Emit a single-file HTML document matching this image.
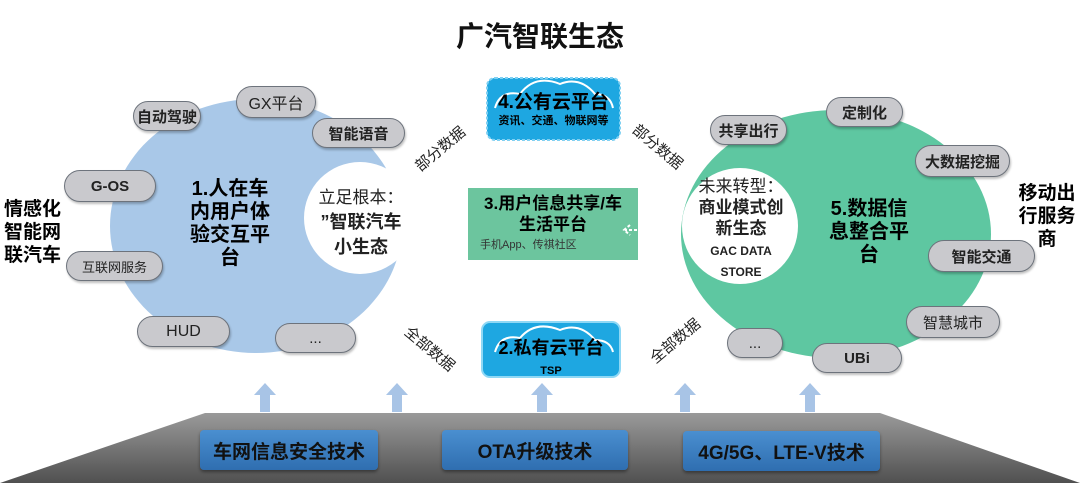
<!DOCTYPE html>
<html><head><meta charset="utf-8"><style>
body{margin:0;width:1080px;height:483px;background:#fff;overflow:hidden;position:relative;font-family:"Liberation Sans","Noto Sans CJK SC",sans-serif}
.a{position:absolute}
.pill{position:absolute;background:#c9c9cd;border:1.5px solid #6d737c;border-radius:16px;box-sizing:border-box;display:flex;align-items:center;justify-content:center;font-size:15px;color:#222;box-shadow:1px 2px 2px rgba(0,0,0,.25)}
.b{font-weight:bold}
.t{position:absolute;font-weight:bold;text-align:center;line-height:1.2}
.rot{position:absolute;font-size:15px;color:#222;white-space:nowrap}
.box{position:absolute;background:linear-gradient(#4a8fd0,#2f6eb0);border-radius:4px;box-shadow:0 2px 3px rgba(0,0,0,.4);color:#111;font-weight:bold;font-size:19px;display:flex;align-items:center;justify-content:center}
</style></head><body>
<svg class="a" style="left:0;top:0" width="1080" height="483">
<defs><linearGradient id="g" x1="0" y1="0" x2="0" y2="1"><stop offset="0" stop-color="#9a9a9a"/><stop offset="1" stop-color="#505050"/></linearGradient></defs>
<ellipse cx="256" cy="226" rx="146" ry="127" fill="#a9c8e8"/>
<circle cx="360" cy="218" r="56" fill="#fff"/>
<ellipse cx="836" cy="234" rx="155" ry="124" fill="#5ec7a1"/>
<circle cx="740" cy="226" r="58" fill="#fff"/>
<polygon points="205,413 880,413 1080,483 0,483" fill="url(#g)"/>
<g fill="#a8c4e6">
<polygon points="265,383 276,395 270,395 270,412 260,412 260,395 254,395"/>
<polygon points="397,383 408,395 402,395 402,412 392,412 392,395 386,395"/>
<polygon points="542,383 553,395 547,395 547,412 537,412 537,395 531,395"/>
<polygon points="685,383 696,395 690,395 690,412 680,412 680,395 674,395"/>
<polygon points="810,383 821,395 815,395 815,412 805,412 805,395 799,395"/>
</g>
<rect x="468" y="188" width="170" height="72" fill="#6cc59e"/>
<path d="M637,230 L625,230 M630,225 L624,230 L630,235" stroke="#fff" stroke-width="2" fill="none" stroke-dasharray="3,2"/>
<rect x="487" y="78" width="133" height="62" rx="8" fill="#1ea7e1" stroke="#7fd0f2" stroke-width="2" stroke-dasharray="3,2"/>
<path d="M495,108 q5,-18 25,-14 q15,-20 40,-10 q20,-8 35,10 q15,0 18,14" fill="none" stroke="#fff" stroke-width="2"/>
<rect x="482" y="322" width="138" height="55" rx="8" fill="#1ea7e1" stroke="#8fd8f5" stroke-width="2"/>
<path d="M495,352 q5,-18 25,-14 q15,-18 40,-8 q20,-8 35,10 q15,0 18,12" fill="none" stroke="#fff" stroke-width="2"/>
</svg>
<div class="t" style="left:0;width:1080px;top:20px;font-size:28px;color:#111">广汽智联生态</div>
<div class="pill b" style="left:133px;top:101px;width:68px;height:30px">自动驾驶</div>
<div class="pill" style="left:236px;top:86px;width:80px;height:32px;font-size:16px">GX平台</div>
<div class="pill b" style="left:312px;top:118px;width:93px;height:30px">智能语音</div>
<div class="pill b" style="left:64px;top:170px;width:92px;height:32px">G-OS</div>
<div class="pill" style="left:66px;top:251px;width:97px;height:30px;font-size:13px">互联网服务</div>
<div class="pill" style="left:137px;top:316px;width:93px;height:31px;font-size:16px">HUD</div>
<div class="pill" style="left:275px;top:323px;width:81px;height:30px">...</div>
<div class="pill b" style="left:710px;top:115px;width:77px;height:30px">共享出行</div>
<div class="pill b" style="left:826px;top:97px;width:77px;height:30px">定制化</div>
<div class="pill b" style="left:915px;top:145px;width:95px;height:32px">大数据挖掘</div>
<div class="pill b" style="left:928px;top:240px;width:107px;height:32px">智能交通</div>
<div class="pill" style="left:906px;top:306px;width:94px;height:32px">智慧城市</div>
<div class="pill b" style="left:812px;top:343px;width:90px;height:30px">UBi</div>
<div class="pill" style="left:727px;top:328px;width:56px;height:30px">...</div>
<div class="t" style="left:4px;top:198px;font-size:19px;text-align:left;line-height:23px">情感化<br>智能网<br>联汽车</div>
<div class="t" style="left:1014px;top:182px;font-size:19px;line-height:23px;width:66px">移动出<br>行服务<br>商</div>
<div class="t" style="left:188px;top:178px;width:84px;font-size:20px;line-height:23px">1.人在车<br>内用户体<br>验交互平<br>台</div>
<div class="a" style="left:305px;top:186px;width:112px;text-align:center;font-size:17px;line-height:24px;color:#222">立足根本：<br><b style="font-size:18px">”智联汽车<br>小生态</b></div>
<div class="t" style="left:828px;top:198px;width:82px;font-size:20px;line-height:23px">5.数据信<br>息整合平<br>台</div>
<div class="a" style="left:686px;top:176px;width:110px;text-align:center;font-size:17px;line-height:21px;color:#222">未来转型：<br><b>商业模式创<br>新生态</b><br><b style="font-size:12px;line-height:15px">GAC DATA<br>STORE</b></div>
<div class="t" style="left:487px;top:92px;width:133px;font-size:19px;line-height:22px">4.公有云平台<br><span style="font-size:11px;display:block;line-height:14px">资讯、交通、物联网等</span></div>
<div class="t" style="left:468px;top:193px;width:170px;font-size:17px;line-height:21px">3.用户信息共享/车<br>生活平台</div>
<div class="a" style="left:480px;top:236px;font-size:11px;color:#333">手机App、传祺社区</div>
<div class="t" style="left:482px;top:338px;width:138px;font-size:18px;line-height:20px">2.私有云平台<br><span style="font-size:11px">TSP</span></div>
<div class="rot" style="left:410px;top:138px;transform:rotate(-40deg)">部分数据</div>
<div class="rot" style="left:628px;top:136px;transform:rotate(40deg)">部分数据</div>
<div class="rot" style="left:400px;top:338px;transform:rotate(40deg)">全部数据</div>
<div class="rot" style="left:645px;top:330px;transform:rotate(-40deg)">全部数据</div>
<div class="box" style="left:200px;top:430px;width:178px;height:40px">车网信息安全技术</div>
<div class="box" style="left:442px;top:430px;width:186px;height:40px">OTA升级技术</div>
<div class="box" style="left:683px;top:431px;width:197px;height:40px">4G/5G、LTE-V技术</div>
</body></html>
